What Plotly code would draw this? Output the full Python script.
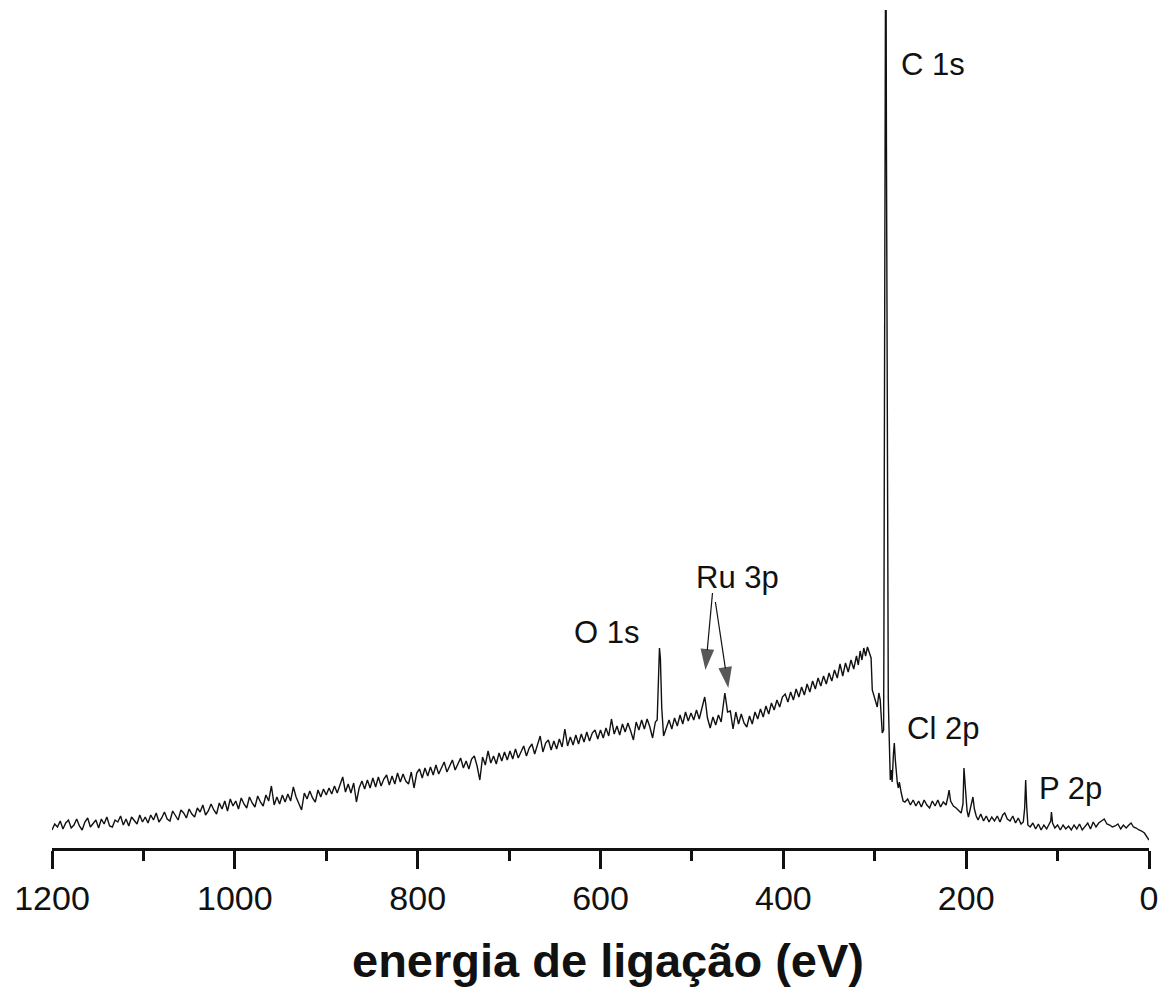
import plotly.graph_objects as go

FONT = "Liberation Sans, Arial, sans-serif"

# ---------------- data: XPS survey spectrum ----------------
# binding energy (eV)
energy = [
    1200, 1197, 1194, 1191, 1188, 1185, 1182, 1179, 1176, 1173, 1170, 1167, 1164, 1161, 1158, 1155, 1152,
    1149, 1146, 1143, 1140, 1137, 1134, 1131, 1128, 1125, 1122, 1119, 1116, 1113, 1110, 1107, 1104, 1101,
    1098, 1095, 1092, 1089, 1086, 1083, 1080, 1077, 1074, 1071, 1068, 1065, 1062, 1059, 1056, 1053, 1050,
    1047, 1044, 1041, 1038, 1035, 1032, 1029, 1026, 1023, 1020, 1017, 1014, 1011, 1008, 1005, 1002,
    999, 996, 993, 990, 987, 984, 981, 978, 975, 972, 969, 966, 963, 960, 957, 954, 951,
    948, 945, 942, 939, 936, 933, 930, 927, 924, 921, 918, 915, 912, 909, 906, 903,
    900, 897, 894, 891, 888, 885, 882, 879, 876, 873, 870, 867, 864, 861, 858, 855, 852,
    849, 846, 843, 840, 837, 834, 831, 828, 825, 822, 819, 816, 813, 810, 807, 804,
    801, 798, 795, 792, 789, 786, 783, 780, 777, 774, 771, 768, 765, 762, 759, 756, 753,
    750, 747, 744, 741, 738, 735, 732, 729, 726, 723, 720, 717, 714, 711, 708, 705,
    702, 699, 696, 693, 690, 687, 684, 681, 678, 675, 672, 669, 666, 663, 660, 657, 654,
    651, 648, 645, 642, 639, 636, 633, 630, 627, 624, 621, 618, 615, 612, 609, 606,
    603, 600, 597, 594, 591, 588, 585, 582, 579, 576, 573, 570, 567, 564, 561, 558, 555,
    552, 549, 546, 543, 540,
    538, 536.5, 535.5, 534.5, 533, 531, 529,
    525, 522, 519, 516, 513, 510, 507, 504, 501, 498, 495, 492, 489, 487, 486, 485, 483,
    480, 477, 474, 471, 468, 466, 465, 464, 463, 461, 458, 455, 452, 449, 446, 443, 440,
    437, 434, 431, 428, 425, 422, 419, 416, 413, 410, 407, 404, 401, 398, 395, 392, 389,
    386, 383, 380, 377, 374, 371, 368, 365, 362, 359, 356, 353, 350, 347, 344, 341, 338,
    335, 332, 329, 326, 323, 320, 318, 316, 314, 312, 310, 308, 306, 304,
    302.7, 300, 297.3, 295.5, 294, 291.8, 290.3, 290.0, 289.6, 289.0, 288.5, 287.9, 287.2, 286.4,
    285.6, 285.2, 284.7, 284, 283, 282, 281,
    279.5, 278.6, 277.5, 276, 275.3, 274.2, 273.1, 271, 269, 267, 264, 261, 258, 255, 252, 249,
    246, 243, 240, 237, 234, 231, 228, 225, 222, 220, 218.7, 217, 214, 211, 208, 205.5, 203.5,
    202.4, 201, 199, 197.5, 195, 193.5, 192.6, 191, 189, 187, 184, 181, 178, 175, 172, 169,
    166, 163, 160, 157.8, 155, 152, 149, 146, 143, 140, 137.5, 136, 134.9, 133.8, 132.5, 130,
    127, 124, 121, 118, 115, 112, 109, 107.5, 106.7, 105.5, 103, 100, 97, 94, 91, 88,
    85, 82, 79, 76, 73, 70, 67, 64, 61, 58, 55, 52, 49, 46, 43, 40,
    37, 34, 31, 28, 25, 22, 19.6, 17, 14, 11, 8, 5, 3, 1, 0,
]

# intensity (arbitrary units)
intensity = [
    18, 24, 21, 27, 19, 25, 28, 20, 23, 29, 22, 18, 26, 30, 21, 24, 28,
    20, 29, 24, 31, 22, 21, 28, 26, 32, 23, 29, 22, 31, 28, 24, 33, 26,
    31, 25, 33, 28, 35, 26, 30, 36, 29, 27, 37, 33, 28, 38, 35, 30, 39,
    34, 31, 40, 36, 43, 33, 37, 44, 38, 34, 45, 39, 47, 37, 49, 42,
    47, 39, 50, 44, 40, 51, 45, 41, 52, 46, 42, 53, 47, 62, 43, 51, 44,
    53, 46, 54, 47, 61, 51, 45, 38, 55, 49, 57, 50, 46, 58, 51, 59,
    53, 60, 54, 62, 55, 63, 71, 56, 64, 55, 65, 46, 60, 67, 59, 68, 60,
    70, 61, 71, 62, 69, 73, 63, 72, 64, 75, 66, 74, 67, 64, 76, 60,
    75, 79, 70, 80, 72, 81, 73, 83, 74, 81, 86, 76, 83, 88, 78, 85, 90,
    80, 87, 79, 89, 92, 82, 68, 91, 83, 97, 85, 92, 84, 95, 87, 96,
    88, 97, 89, 99, 90, 97, 102, 92, 100, 104, 94, 103, 112, 96, 105, 108, 98,
    107, 99, 109, 101, 119, 102, 111, 103, 113, 104, 114, 106, 116, 107, 115, 118,
    109, 118, 110, 120, 112, 129, 114, 122, 113, 124, 116, 125, 117, 108, 126, 118, 128,
    119, 129, 121, 110, 126,
    128, 170, 200, 190, 140, 112, 118,
    128, 119, 130, 122, 133, 124, 136, 127, 135, 128, 138, 129, 139, 146, 151, 145, 130,
    120, 131, 123, 133, 126, 140, 152, 155, 149, 136, 137, 119, 136, 124, 134, 125, 121,
    132, 124, 136, 129, 139, 131, 142, 134, 145, 138, 148, 141, 151, 154, 146, 156, 148,
    159, 151, 161, 153, 164, 156, 167, 159, 170, 162, 172, 164, 175, 167, 178, 170, 184,
    172, 185, 176, 188, 179, 192, 183, 197, 188, 200, 192, 201, 195, 190,
    158, 150, 141, 155, 148, 115, 118, 200, 400, 700, 1000, 1000, 700, 400,
    220, 150, 130, 100, 68, 78, 66,
    95, 105, 88, 70, 65, 60, 66, 55, 47, 46, 49, 43, 48, 42, 47, 41,
    48, 43, 40, 47, 42, 48, 41, 46, 43, 51, 58, 47, 42, 40, 37, 35, 44,
    80, 62, 37, 31, 40, 48, 51, 39, 32, 28, 34, 27, 32, 26, 31, 27,
    32, 26, 33, 35, 29, 27, 32, 25, 30, 24, 26, 40, 68, 42, 23, 21,
    25, 19, 24, 18, 23, 19, 24, 27, 36, 25, 20, 23, 18, 23, 19, 22,
    18, 23, 19, 24, 18, 22, 25, 19, 26, 21, 25, 27, 29, 24, 23, 21,
    22, 24, 19, 23, 20, 23, 25, 21, 20, 18, 17, 15, 12, 9, 8,
]

tick_vals = [1200, 1000, 800, 600, 400, 200, 0]
tick_text = ["1200", "1000", "800", "600", "400", "200", "0"]

# peak labels: (text, energy, intensity, anchor)
peak_labels = [
    ("C 1s", 273.5, 784, "left"),
    ("O 1s", 593.5, 216, "center"),
    ("Ru 3p", 450, 271, "center"),
    ("Cl 2p", 267, 120, "left"),
    ("P 2p", 123, 60, "left"),
]
# Ru 3p arrows: (tail_E, tail_I, head_E, head_I)
ru_arrows = [
    (477.5, 255, 485.2, 178),
    (474.3, 246, 460.2, 160),
]

fig = go.Figure()
fig.add_trace(go.Scatter(
    x=energy, y=intensity, mode="lines",
    line=dict(color="#111111", width=1.4),
    hoverinfo="skip", showlegend=False, cliponaxis=True,
))

for te, ti, he, hi in ru_arrows:
    fig.add_trace(go.Scatter(
        x=[te, he], y=[ti, hi], mode="lines+markers",
        line=dict(color="#111111", width=1.2),
        marker=dict(symbol=["circle", "arrow"], size=[0, 22], color="#111111",
                    angleref="previous", line=dict(width=0)),
        hoverinfo="skip", showlegend=False,
    ))

for text, e, i, anchor in peak_labels:
    fig.add_annotation(
        x=e, y=i, text=text, showarrow=False, xanchor=anchor, yanchor="middle",
        font=dict(family=FONT, size=31, color="#111111"),
    )

fig.add_annotation(
    xref="paper", yref="paper", x=0.5, y=0, xshift=7, yshift=-112,
    text="<b>energia de ligação (eV)</b>", showarrow=False,
    xanchor="center", yanchor="middle",
    font=dict(family=FONT, size=47, color="#111111"),
)

fig.update_layout(
    width=1168, height=993,
    margin=dict(l=52, r=13, t=10, b=145),
    plot_bgcolor="white", paper_bgcolor="white",
    xaxis=dict(
        range=[1200, 0], showgrid=False, zeroline=False,
        showline=True, linecolor="#111111", linewidth=3,
        tickmode="array", tickvals=tick_vals, ticktext=tick_text,
        ticks="outside", ticklen=18, tickwidth=2.5, tickcolor="#111111",
        tickfont=dict(family=FONT, size=34, color="#111111"),
        minor=dict(dtick=100, ticks="outside", ticklen=10, tickwidth=2.5, tickcolor="#111111"),
    ),
    yaxis=dict(
        range=[0, 838], showgrid=False, zeroline=False, showline=False,
        showticklabels=False, ticks="",
    ),
)

fig.write_html("out.html")
